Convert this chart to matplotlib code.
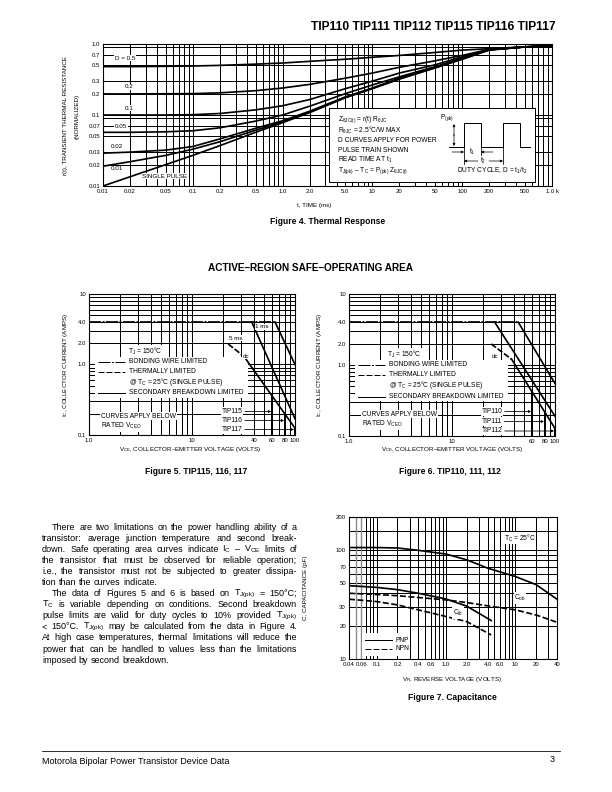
import numpy as np
import matplotlib
matplotlib.use('Agg')
import matplotlib.pyplot as plt
from matplotlib.patches import Rectangle
from matplotlib.ticker import NullLocator

plt.rcParams['font.family'] = ['Liberation Sans', 'DejaVu Sans']
plt.rcParams['mathtext.fontset'] = 'custom'
plt.rcParams['mathtext.rm'] = 'Liberation Sans'
plt.rcParams['mathtext.it'] = 'Liberation Sans:italic'
plt.rcParams['mathtext.bf'] = 'Liberation Sans:bold'
plt.rcParams['lines.scale_dashes'] = False

W, H = 612, 792
FS = 6.3    # small chart text
LS = 6.6    # legend / note text
TS = 6.0    # tick labels
CS = 8.5    # captions

# ---- Figure 4: thermal response ----
t_ms = [0.01, 0.02, 0.05, 0.1, 0.2, 0.5, 1.0, 2.0, 5.0, 10, 20, 50, 100, 200, 500, 1000]
r_d050 = [0.48, 0.48, 0.485, 0.49, 0.50, 0.52, 0.54, 0.57, 0.61, 0.65, 0.69, 0.76, 0.82, 0.86, 0.91, 0.94]
r_d020 = [0.198, 0.198, 0.199, 0.20, 0.205, 0.22, 0.24, 0.27, 0.33, 0.39, 0.47, 0.58, 0.69, 0.84, 0.91, 0.94]
r_d010 = [0.10, 0.10, 0.10, 0.101, 0.105, 0.118, 0.135, 0.165, 0.235, 0.30, 0.39, 0.51, 0.66, 0.83, 0.91, 0.94]
r_d005 = [0.057, 0.057, 0.058, 0.06, 0.066, 0.082, 0.10, 0.133, 0.20, 0.265, 0.345, 0.48, 0.63, 0.83, 0.91, 0.94]
r_d002 = [0.029, 0.030, 0.032, 0.036, 0.046, 0.065, 0.083, 0.113, 0.18, 0.24, 0.33, 0.47, 0.62, 0.83, 0.91, 0.94]
r_d001 = [0.019, 0.022, 0.027, 0.033, 0.042, 0.061, 0.08, 0.11, 0.177, 0.237, 0.325, 0.465, 0.615, 0.83, 0.91, 0.94]
r_single = [0.010, 0.0135, 0.020, 0.027, 0.037, 0.057, 0.078, 0.108, 0.175, 0.235, 0.32, 0.46, 0.61, 0.82, 0.91, 0.94]
f4_xticks = [0.01, 0.02, 0.05, 0.1, 0.2, 0.5, 1, 2, 5, 10, 20, 50, 100, 200, 500, 1000]
f4_xlabels = ['0.01', '0.02', '0.05', '0.1', '0.2', '0.5', '1.0', '2.0', '5.0', '10', '20', '50', '100', '200', '500', '1.0 k']
f4_yticks = [0.01, 0.02, 0.03, 0.05, 0.07, 0.1, 0.2, 0.3, 0.5, 0.7, 1.0]
f4_ylabels = ['0.01', '0.02', '0.03', '0.05', '0.07', '0.1', '0.2', '0.3', '0.5', '0.7', '1.0']
f4_hgrid = [0.01, 0.02, 0.03, 0.05, 0.07, 0.09, 0.1, 0.2, 0.3, 0.5, 0.7, 0.9, 1.0]

# ---- Figure 5: TIP115/116/117 SOA ----
f5_bw_v, f5_bw_i = [1, 64], [4.0, 4.0]
f5_1ms_v, f5_1ms_i = [64, 100], [4.0, 1.0]
f5_5ms_v, f5_5ms_i = [38, 100], [4.0, 0.17]
f5_th_v, f5_th_i = [22.5, 32], [1.95, 1.3]
f5_dc_v, f5_dc_i = [32, 100], [1.3, 0.125]
f5_vceo = [60, 80, 100]
f5_parts = ['TIP115', 'TIP116', 'TIP117']

# ---- Figure 6: TIP110/111/112 SOA ----
f6_bw_v, f6_bw_i = [1, 44], [4.0, 4.0]
f6_1ms_v, f6_1ms_i = [44, 100], [4.0, 0.55]
f6_5ms_v, f6_5ms_i = [26, 100], [4.0, 0.19]
f6_th_v, f6_th_i = [24, 38], [1.98, 1.2]
f6_dc_v, f6_dc_i = [38, 100], [1.2, 0.128]
f6_vceo = [60, 80, 100]
f6_parts = ['TIP110', 'TIP111', 'TIP112']

soa_yticks = [0.1, 1.0, 2.0, 4.0, 10]
soa_ylabels = ['0.1', '1.0', '2.0', '4.0', '10']

# ---- Figure 7: capacitance ----
vr = [0.04, 0.1, 0.2, 0.4, 1.0, 2.0, 4.0, 10, 20, 40]
cob_pnp = [105, 105, 104, 99, 91.5, 81, 68, 57, 48, 35.3]
cob_npn = [40, 39, 38, 36.6, 34.8, 32.9, 30.7, 28.2, 25.3, 21.7]
vr_ib = [0.04, 0.1, 0.2, 0.4, 1.0, 2.0, 4.5]
cib_pnp = [47, 45.3, 43.2, 40, 35.5, 30.5, 22.5]
cib_npn = [35.3, 33.6, 31.3, 28.2, 24.5, 22, 16.6]
f7_xticks = [0.04, 0.06, 0.1, 0.2, 0.4, 0.6, 1, 2, 4, 6, 10, 20, 40]
f7_xlabels = ['0.04', '0.06', '0.1', '0.2', '0.4', '0.6', '1.0', '2.0', '4.0', '6.0', '10', '20', '40']
f7_yticks = [10, 20, 30, 50, 70, 100, 200]
f7_hgrid = [20, 30, 40, 50, 60, 70, 80, 90, 100, 150]

body = [
    "There are two limitations on the power handling ability of a",
    "transistor: average junction temperature and second break-",
    r"down. Safe operating area curves indicate I$_{\mathrm{C}}$ – V$_{\mathrm{CE}}$ limits of",
    "the transistor that must be observed for reliable operation;",
    "i.e., the transistor must not be subjected to greater dissipa-",
    "tion than the curves indicate.",
    r"The data of Figures 5 and 6 is based on T$_{\mathrm{J(pk)}}$ = 150°C;",
    r"T$_{\mathrm{C}}$ is variable depending on conditions. Second breakdown",
    r"pulse limits are valid for duty cycles to 10% provided T$_{\mathrm{J(pk)}}$",
    r"< 150°C. T$_{\mathrm{J(pk)}}$ may be calculated from the data in Figure 4.",
    "At high case temperatures, thermal limitations will reduce the",
    "power that can be handled to values less than the limitations",
    "imposed by second breakdown.",
]
para_starts = [0, 6]
para_ends = [5, 12]

BW_DASH = (12, 1.5, 2, 1.5)
TH_DASH = (6, 2)

fig = plt.figure(figsize=(W / 72, H / 72), dpi=72)


def place(l, t, r, b):
    return fig.add_axes([l / W, 1 - b / H, (r - l) / W, (b - t) / H])


def log_grid(lo, hi):
    vals = []
    d = 10.0 ** np.floor(np.log10(lo))
    while d <= hi * 1.0001:
        for m in range(1, 10):
            v = m * d
            if lo * 0.9999 <= v <= hi * 1.0001:
                vals.append(v)
        d *= 10
    return vals


def style_axes(ax, xlim, ylim, xt, xl, yt, yl, vgrid, hgrid):
    ax.set_xscale('log')
    ax.set_yscale('log')
    ax.set_xlim(*xlim)
    ax.set_ylim(*ylim)
    for v in vgrid:
        ax.axvline(v, color='k', lw=1.0, zorder=0.5)
    for h in hgrid:
        ax.axhline(h, color='k', lw=1.0, zorder=0.5)
    ax.set_xticks(xt)
    ax.set_xticklabels(xl)
    ax.set_yticks(yt)
    ax.set_yticklabels(yl)
    ax.xaxis.set_minor_locator(NullLocator())
    ax.yaxis.set_minor_locator(NullLocator())
    ax.tick_params(length=0, labelsize=TS, pad=3)
    for s in ax.spines.values():
        s.set_linewidth(1.1)


# page layer (pixel coordinates), drawn on top
page = fig.add_axes([0, 0, 1, 1], zorder=10)
page.set_xlim(0, W)
page.set_ylim(H, 0)
page.axis('off')
page.patch.set_alpha(0)


def txt(x, y, s, size=FS, ha='left', box=False, **kw):
    bb = dict(fc='white', ec='none', pad=0.6) if box else None
    return page.text(x, y, s, fontsize=size, ha=ha, va='center', bbox=bb, **kw)


def white(ax, x0, y0, x1, y1):
    ax.add_patch(Rectangle((x0, y0), x1 - x0, y1 - y0, transform=page.transData,
                           fc='white', ec='none', zorder=1))


# ================= Figure 4 =================
ax4 = place(103, 44, 552, 186)
style_axes(ax4, (0.01, 1000), (0.01, 1.0), f4_xticks, f4_xlabels, f4_yticks, f4_ylabels,
           log_grid(0.01, 1000), f4_hgrid)
for r in [r_d050, r_d020, r_d010, r_d005, r_d002, r_d001, r_single]:
    ax4.plot(t_ms, r, color='k', lw=1.7, zorder=2)

txt(125, 58, 'D = 0.5', ha='center', box=True)
txt(129, 87, '0.2', ha='center', box=True)
txt(129, 108, '0.1', ha='center', box=True)
txt(121, 127, '0.05', ha='center', box=True)
txt(117, 146, '0.02', ha='center', box=True)
txt(117, 169, '0.01', ha='center', box=True)
txt(165, 176, 'SINGLE PULSE', ha='center', box=True)

page.add_patch(Rectangle((329, 108), 206, 74, fc='white', ec='k', lw=1.0))
bx = 338
txt(bx, 120, r'Z$_{\mathrm{\theta JC(t)}}$ = r(t) R$_{\mathrm{\theta JC}}$', size=LS)
txt(bx, 130, r'R$_{\mathrm{\theta JC}}$ = 2.5°C/W MAX', size=LS)
txt(bx, 140, 'D CURVES APPLY FOR POWER', size=LS)
txt(bx, 150, 'PULSE TRAIN SHOWN', size=LS)
txt(bx, 160, r'READ TIME AT t$_{\mathrm{1}}$', size=LS)
txt(bx, 171, r'T$_{\mathrm{J(pk)}}$ – T$_{\mathrm{C}}$ = P$_{\mathrm{(pk)}}$ Z$_{\mathrm{\theta JC(t)}}$', size=LS)
txt(440, 118, r'P$_{\mathrm{(pk)}}$', size=LS)
page.plot([449, 464, 464, 481, 481, 503, 503, 520, 520, 530],
          [147, 147, 123, 123, 147, 147, 123, 123, 147, 147], color='k', lw=1.0)
arr = dict(arrowstyle='-|>', color='k', lw=0.7, mutation_scale=5, shrinkA=0, shrinkB=0)
page.annotate('', xy=(454, 124), xytext=(454, 136), arrowprops=arr)
page.annotate('', xy=(454, 146), xytext=(454, 134), arrowprops=arr)
page.plot([464, 464], [147, 164], color='k', lw=0.8)
page.plot([481, 481], [147, 155], color='k', lw=0.8)
page.plot([503, 503], [147, 164], color='k', lw=0.8)
page.annotate('', xy=(464, 152), xytext=(452, 152), arrowprops=arr)
page.annotate('', xy=(481, 152), xytext=(493, 152), arrowprops=arr)
txt(472, 152, r't$_{\mathrm{1}}$', size=LS, ha='center')
page.annotate('', xy=(464, 161), xytext=(478, 161), arrowprops=arr)
page.annotate('', xy=(503, 161), xytext=(489, 161), arrowprops=arr)
txt(483.5, 161, r't$_{\mathrm{2}}$', size=LS, ha='center')
txt(492, 171, r'DUTY CYCLE, D = t$_{\mathrm{1}}$/t$_{\mathrm{2}}$', size=LS, ha='center')

txt(66, 116, 'r(t), TRANSIENT THERMAL RESISTANCE', ha='center', rotation=90)
txt(77, 116, '(NORMALIZED)', ha='center', rotation=90)
txt(314, 206, 't, TIME (ms)', ha='center')
txt(328, 222, 'Figure 4. Thermal Response', size=CS, ha='center', weight='bold')


# ================= Figures 5 and 6 =================
def soa(ax, bw, ms1, ms5, th, dc, vceo, xt, xl):
    style_axes(ax, (1, 100), (0.1, 10), xt, xl, soa_yticks, soa_ylabels,
               log_grid(1, 100), log_grid(0.1, 10))
    ax.plot(*bw, color='k', lw=1.7, dashes=BW_DASH, zorder=2)
    ax.plot(*ms1, color='k', lw=1.7, zorder=2)
    ax.plot(*ms5, color='k', lw=1.7, zorder=2)
    ax.plot(*th, color='k', lw=1.7, dashes=TH_DASH, zorder=2)
    ax.plot(*dc, color='k', lw=1.7, zorder=2)
    lv, li = np.log10(dc[0]), np.log10(dc[1])
    tips = []
    for v in vceo:
        top = 10 ** np.interp(np.log10(v), lv, li)
        ax.plot([v, v], [0.1, top], color='k', lw=2.0, zorder=2)
        tips.append(page.transData.inverted().transform(ax.transData.transform((v, 1)))[0])
    return tips


def soa_legend(ax, x0, y0, x1, tj_x):
    white(ax, x0 - 3, y0 - 5, x1, y0 + 36)
    txt(tj_x, y0 - 10.5, r'T$_{\mathrm{J}}$ = 150°C', size=LS, box=True)
    xs = [x0, x0 + 27]
    ys = [y0, y0 + 10, y0 + 20, y0 + 31.5]
    page.plot(xs, [ys[0]] * 2, color='k', lw=1.0, dashes=BW_DASH)
    page.plot(xs, [ys[1]] * 2, color='k', lw=1.0, dashes=TH_DASH)
    page.plot(xs, [ys[3]] * 2, color='k', lw=1.0)
    tx = x0 + 31
    txt(tx, ys[0], 'BONDING WIRE LIMITED', size=LS)
    txt(tx, ys[1], 'THERMALLY LIMITED', size=LS)
    txt(tx, ys[2], r'@ T$_{\mathrm{C}}$ = 25°C (SINGLE PULSE)', size=LS)
    txt(tx, ys[3], 'SECONDARY BREAKDOWN LIMITED', size=LS)


def tip_labels(parts, tips, x, ys):
    for p, tip, y in zip(parts, tips, ys):
        t = txt(x, y, p, size=LS, box=True)
        w = t.get_window_extent(fig.canvas.get_renderer()).width
        page.annotate('', xy=(tip - 1, y), xytext=(x + w + 2, y),
                      arrowprops=dict(arrowstyle='-|>', color='k', lw=0.8,
                                      mutation_scale=5, shrinkA=0, shrinkB=0))


ax5 = place(89, 294, 295, 435)
tips5 = soa(ax5, (f5_bw_v, f5_bw_i), (f5_1ms_v, f5_1ms_i), (f5_5ms_v, f5_5ms_i),
            (f5_th_v, f5_th_i), (f5_dc_v, f5_dc_i), f5_vceo,
            [1, 10, 40, 60, 80, 100], ['1.0', '10', '40', '60', '80', '100'])
soa_legend(ax5, 98, 361.5, 248, 128)
txt(101, 416, 'CURVES APPLY BELOW', size=LS, box=True)
txt(101, 426, r'RATED V$_{\mathrm{CEO}}$', size=LS, box=True)
tip_labels(f5_parts, tips5, 222, [411.5, 420.5, 429.5])
txt(262, 327, '1 ms', ha='center', box=True)
txt(236, 338, '5 ms', ha='center', box=True)
txt(246, 356, 'dc', ha='center', box=True)
txt(66, 365, r'I$_{\mathrm{C}}$, COLLECTOR CURRENT (AMPS)', ha='center', rotation=90)
txt(190, 449, r'V$_{\mathrm{CE}}$, COLLECTOR–EMITTER VOLTAGE (VOLTS)', ha='center')
txt(196, 472, 'Figure 5. TIP115, 116, 117', size=CS, ha='center', weight='bold')

ax6 = place(349, 294, 555, 436)
tips6 = soa(ax6, (f6_bw_v, f6_bw_i), (f6_1ms_v, f6_1ms_i), (f6_5ms_v, f6_5ms_i),
            (f6_th_v, f6_th_i), (f6_dc_v, f6_dc_i), f6_vceo,
            [1, 10, 60, 80, 100], ['1.0', '10', '60', '80', '100'])
soa_legend(ax6, 358, 365, 508, 387)
txt(362, 414, 'CURVES APPLY BELOW', size=LS, box=True)
txt(362, 424, r'RATED V$_{\mathrm{CEO}}$', size=LS, box=True)
tip_labels(f6_parts, tips6, 482, [411.5, 421.5, 431])
txt(495, 356, 'dc', ha='center', box=True)
txt(320, 365, r'I$_{\mathrm{C}}$, COLLECTOR CURRENT (AMPS)', ha='center', rotation=90)
txt(452, 449, r'V$_{\mathrm{CE}}$, COLLECTOR–EMITTER VOLTAGE (VOLTS)', ha='center')
txt(450, 472, 'Figure 6. TIP110, 111, 112', size=CS, ha='center', weight='bold')

txt(310, 268, 'ACTIVE–REGION SAFE–OPERATING AREA', size=10, ha='center', weight='bold')

# ================= Figure 7 =================
ax7 = place(349, 517, 557, 659)
style_axes(ax7, (0.04, 40), (10, 200), f7_xticks, f7_xlabels, f7_yticks,
           [str(v) for v in f7_yticks], log_grid(0.07, 40), f7_hgrid)
for v in [0.05, 0.06]:
    ax7.axvline(v, color='0.55', lw=1.4, zorder=0.6)
ax7.plot(vr, cob_pnp, color='k', lw=1.7, zorder=2)
ax7.plot(vr_ib, cib_pnp, color='k', lw=1.7, zorder=2)
ax7.plot(vr, cob_npn, color='k', lw=1.7, dashes=(6, 2.5), zorder=2)
ax7.plot(vr_ib, cib_npn, color='k', lw=1.7, dashes=(6, 2.5), zorder=2)
white(ax7, 362, 633, 408, 656)
page.plot([365, 392], [640, 640], color='k', lw=1.0)
page.plot([365, 392], [649, 649], color='k', lw=1.0, dashes=(6, 2))
txt(396, 640, 'PNP', size=LS)
txt(396, 649, 'NPN', size=LS)
txt(504, 538, r'T$_{\mathrm{C}}$ = 25°C', size=LS, box=True)
txt(520, 598, r'C$_{\mathrm{ob}}$', size=LS, ha='center', box=True)
txt(458, 613, r'C$_{\mathrm{ib}}$', size=LS, ha='center', box=True)
txt(306, 588, 'C, CAPACITANCE (pF)', ha='center', rotation=90)
txt(452, 679, r'V$_{\mathrm{R}}$, REVERSE VOLTAGE (VOLTS)', ha='center')
txt(452, 697, 'Figure 7. Capacitance', size=CS, ha='center', weight='bold')

# ================= header, body text, footer =================
page.text(556, 27, 'TIP110 TIP111 TIP112 TIP115 TIP116 TIP117', fontsize=12,
          fontweight='bold', ha='right', va='center')

rend = fig.canvas.get_renderer()
x0, x1, y0, dy = 42, 297, 527, 11.1
for i, line in enumerate(body):
    left = x0 + (10 if i in para_starts else 0)
    words = line.split(' ')
    objs = [page.text(left, y0 + i * dy, w, fontsize=9, va='center') for w in words]
    widths = [o.get_window_extent(rend).width for o in objs]
    gap = 2.5 if i in para_ends else (x1 - left - sum(widths)) / (len(words) - 1)
    x = left
    for o, w in zip(objs, widths):
        o.set_x(x)
        x += w + gap

page.plot([42, 560], [751, 751], color='k', lw=0.8)
txt(42, 762, 'Motorola Bipolar Power Transistor Device Data', size=9)
txt(552, 760, '3', size=9, ha='center')

fig.savefig('out.png', dpi=72)
